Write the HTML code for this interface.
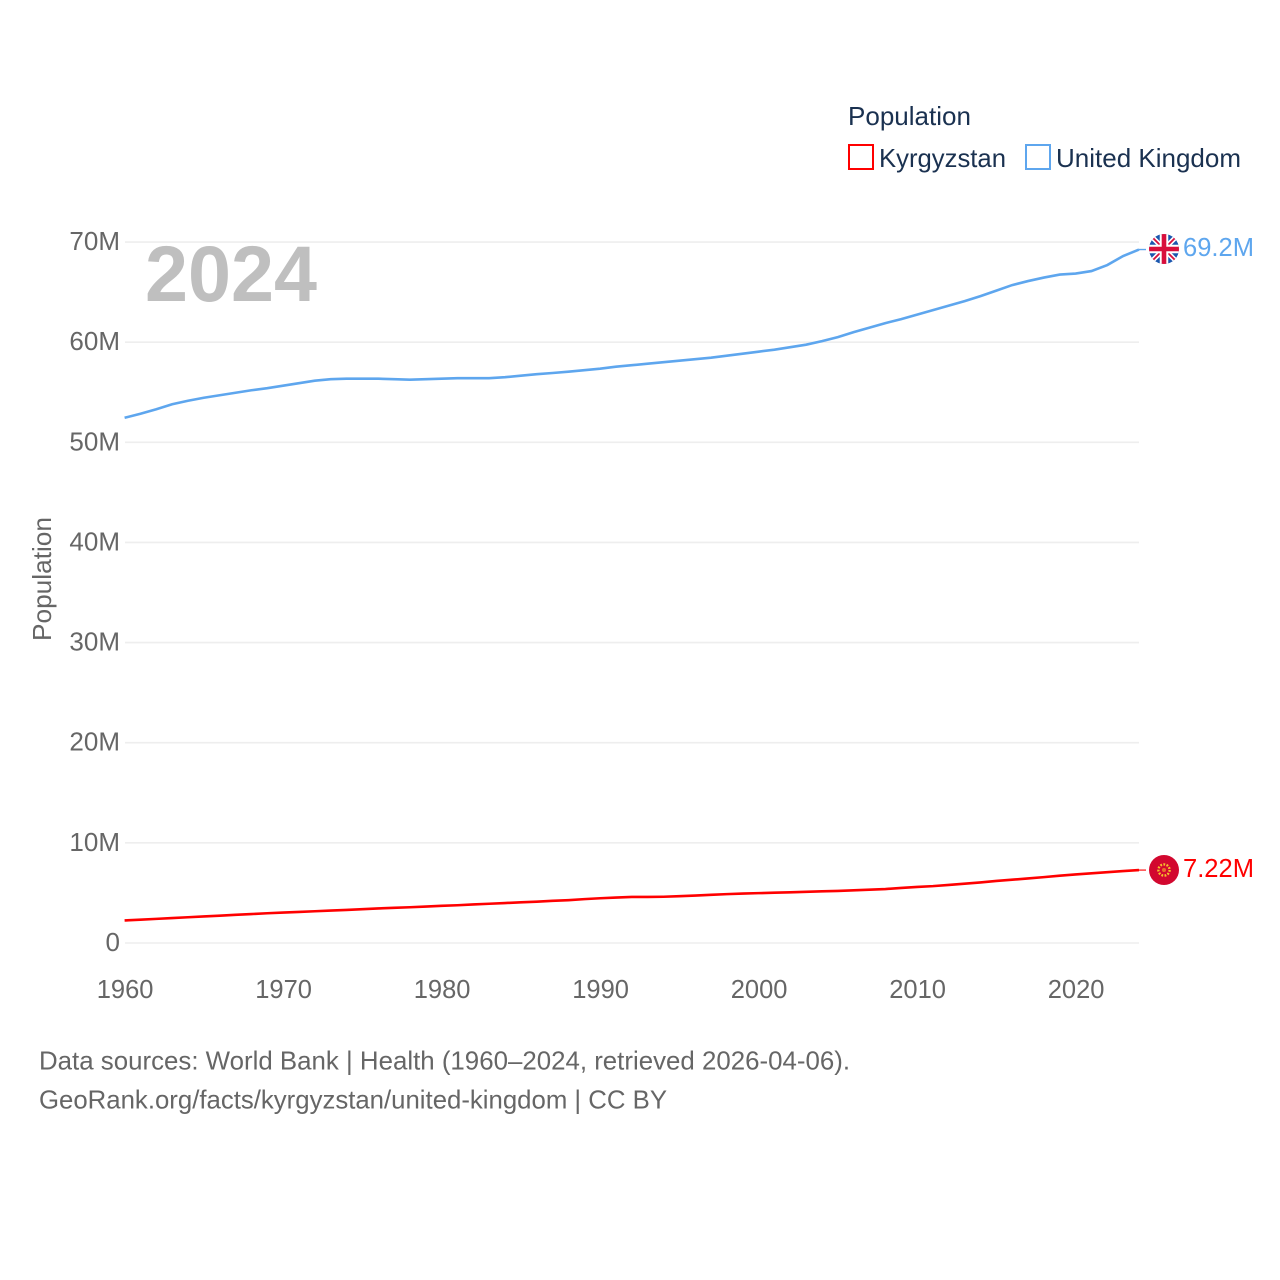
<!DOCTYPE html>
<html>
<head>
<meta charset="utf-8">
<style>
html,body{margin:0;padding:0;background:#fff}
svg{display:block}
text{font-family:"Liberation Sans",sans-serif}
</style>
</head>
<body>
<svg id="chart" width="1280" height="1280" viewBox="0 0 1280 1280" xmlns="http://www.w3.org/2000/svg">
<defs>
<clipPath id="flag-clip-uk"><circle cx="1164" cy="249" r="15"/></clipPath>
</defs>
<rect width="1280" height="1280" fill="#fff"/>
<g id="grid"></g>
<g id="yticks"></g>
<g id="xticks"></g>
<text transform="translate(51 579) rotate(-90)" text-anchor="middle" font-size="26" fill="#666" textLength="124" lengthAdjust="spacingAndGlyphs">Population</text>
<text x="145" y="301" font-size="79" font-weight="700" fill="#bfbfbf" textLength="172" lengthAdjust="spacingAndGlyphs">2024</text>
<g id="series"></g>

<g>
<text x="848" y="125" font-size="26" fill="#1a3150" textLength="123" lengthAdjust="spacingAndGlyphs">Population</text>
<g>
<rect x="849" y="145" width="24" height="24" fill="#fff" stroke="#f00" stroke-width="2"/>
<text x="879" y="167" font-size="26" fill="#1a3150" textLength="127" lengthAdjust="spacingAndGlyphs">Kyrgyzstan</text>
</g>
<g>
<rect x="1026" y="145" width="24" height="24" fill="#fff" stroke="#5ea6ee" stroke-width="2"/>
<text x="1056" y="167" font-size="26" fill="#1a3150" textLength="185" lengthAdjust="spacingAndGlyphs">United Kingdom</text>
</g>
</g>

<g clip-path="url(#flag-clip-uk)">
<rect x="1149" y="234" width="30" height="30" fill="#1a56ae"/>
<path d="M1149 234L1179 264M1179 234L1149 264" stroke="#fff" stroke-width="5"/>
<path d="M1149 234L1179 264M1179 234L1149 264" stroke="#d80f3c" stroke-width="1.8"/>
<path d="M1164 234V264M1149 249H1179" stroke="#fff" stroke-width="8.5"/>
<path d="M1164 234V264M1149 249H1179" stroke="#d80f3c" stroke-width="4.6"/>
</g>
<text id="uk-end-label" x="1183" y="256" font-size="26" fill="#5ea6ee" textLength="71" lengthAdjust="spacingAndGlyphs">69.2M</text>

<g>
<circle cx="1164" cy="870" r="15" fill="#d2082f"/>
<circle cx="1164" cy="870" r="5.6" fill="none" stroke="#f6c02c" stroke-width="2.4" stroke-dasharray="1.8 1.4"/>
<circle cx="1164" cy="870" r="2" fill="#e8702a"/>
</g>
<text id="kg-end-label" x="1183" y="877" font-size="26" fill="#f00" textLength="71" lengthAdjust="spacingAndGlyphs">7.22M</text>

<g>
<text x="39" y="1069.5" font-size="26" fill="#666" textLength="811" lengthAdjust="spacingAndGlyphs">Data sources: World Bank | Health (1960–2024, retrieved 2026-04-06).</text>
<text x="39" y="1108.5" font-size="26" fill="#666" textLength="628" lengthAdjust="spacingAndGlyphs">GeoRank.org/facts/kyrgyzstan/united-kingdom | CC BY</text>
</g>
</svg>
<script>
const years = [1960,1961,1962,1963,1964,1965,1966,1967,1968,1969,1970,1971,1972,1973,1974,1975,1976,1977,1978,1979,1980,1981,1982,1983,1984,1985,1986,1987,1988,1989,1990,1991,1992,1993,1994,1995,1996,1997,1998,1999,2000,2001,2002,2003,2004,2005,2006,2007,2008,2009,2010,2011,2012,2013,2014,2015,2016,2017,2018,2019,2020,2021,2022,2023,2024];
const ukValues = [52.45,52.85,53.3,53.8,54.15,54.45,54.7,54.95,55.2,55.4,55.65,55.9,56.15,56.3,56.35,56.35,56.35,56.3,56.25,56.3,56.35,56.4,56.4,56.4,56.5,56.65,56.8,56.92,57.05,57.2,57.35,57.55,57.7,57.85,58,58.15,58.3,58.45,58.65,58.85,59.05,59.25,59.5,59.75,60.1,60.5,61,61.45,61.9,62.3,62.75,63.2,63.65,64.1,64.6,65.15,65.7,66.1,66.45,66.75,66.85,67.1,67.7,68.6,69.25];
const kgValues = [2.25,2.33,2.41,2.49,2.57,2.65,2.73,2.81,2.89,2.97,3.04,3.1,3.17,3.24,3.3,3.38,3.45,3.51,3.57,3.64,3.71,3.77,3.85,3.92,3.99,4.06,4.13,4.21,4.28,4.38,4.47,4.54,4.6,4.6,4.62,4.67,4.74,4.81,4.88,4.94,4.98,5.02,5.06,5.11,5.16,5.2,5.26,5.32,5.39,5.5,5.6,5.68,5.8,5.92,6.05,6.2,6.32,6.45,6.58,6.72,6.85,6.96,7.07,7.18,7.28];
const yTickValues = [0,10,20,30,40,50,60,70];
const yTickLabels = ["0","10M","20M","30M","40M","50M","60M","70M"];
const xTickValues = [1960,1970,1980,1990,2000,2010,2020];
const xTickLabels = ["1960","1970","1980","1990","2000","2010","2020"];

const NS = "http://www.w3.org/2000/svg";
const xScale = function (year) { return 124.6 + (year - 1960) * 15.85; };
const yScale = function (m) { return 943 - m * 10.014; };

function svgEl(tag, parent) {
  const el = document.createElementNS(NS, tag);
  document.getElementById(parent).appendChild(el);
  return el;
}

yTickValues.forEach(function (v, i) {
  const line = svgEl("line", "grid");
  
  
  line.setAttribute("x1", 125);
  line.setAttribute("x2", xScale(2024));
  line.setAttribute("y1", yScale(v));
  line.setAttribute("y2", yScale(v));
  line.setAttribute("stroke", "#eeeeee");
  line.setAttribute("stroke-width", "1.6");
  const t = svgEl("text", "yticks");
  
  
  t.setAttribute("x", 120);
  t.setAttribute("y", yScale(v) + 8);
  t.setAttribute("text-anchor", "end");
  t.setAttribute("font-size", "26");
  t.setAttribute("fill", "#666");
  t.textContent = yTickLabels[i];
});

xTickValues.forEach(function (v, i) {
  const t = svgEl("text", "xticks");
  
  
  t.setAttribute("x", xScale(v) + 0.5);
  t.setAttribute("y", 998);
  t.setAttribute("text-anchor", "middle");
  t.setAttribute("font-size", "25.5");
  t.setAttribute("fill", "#666");
  t.textContent = xTickLabels[i];
});

function pathFor(values) {
  return values.map(function (v, i) {
    return (i ? "L" : "M") + xScale(years[i]).toFixed(2) + " " + yScale(v).toFixed(2);
  }).join("");
}

const ukLine = svgEl("path", "series");


ukLine.setAttribute("d", pathFor(ukValues));
ukLine.setAttribute("fill", "none");
ukLine.setAttribute("stroke", "#5ea6ee");
ukLine.setAttribute("stroke-width", "2.6");

const kgLine = svgEl("path", "series");


kgLine.setAttribute("d", pathFor(kgValues));
kgLine.setAttribute("fill", "none");
kgLine.setAttribute("stroke", "#ff0000");
kgLine.setAttribute("stroke-width", "2.6");

const ukLead = svgEl("line", "series");


ukLead.setAttribute("x1", xScale(2024));
ukLead.setAttribute("x2", 1146);
ukLead.setAttribute("y1", yScale(ukValues[ukValues.length - 1]));
ukLead.setAttribute("y2", yScale(ukValues[ukValues.length - 1]));
ukLead.setAttribute("stroke", "#5ea6ee");
ukLead.setAttribute("stroke-width", "1.4");

const kgLead = svgEl("line", "series");


kgLead.setAttribute("x1", xScale(2024));
kgLead.setAttribute("x2", 1146);
kgLead.setAttribute("y1", yScale(kgValues[kgValues.length - 1]));
kgLead.setAttribute("y2", yScale(kgValues[kgValues.length - 1]));
kgLead.setAttribute("stroke", "#ff0000");
kgLead.setAttribute("stroke-width", "1.6");
kgLead.setAttribute("stroke-opacity", "0.7");
</script>
</body>
</html>
